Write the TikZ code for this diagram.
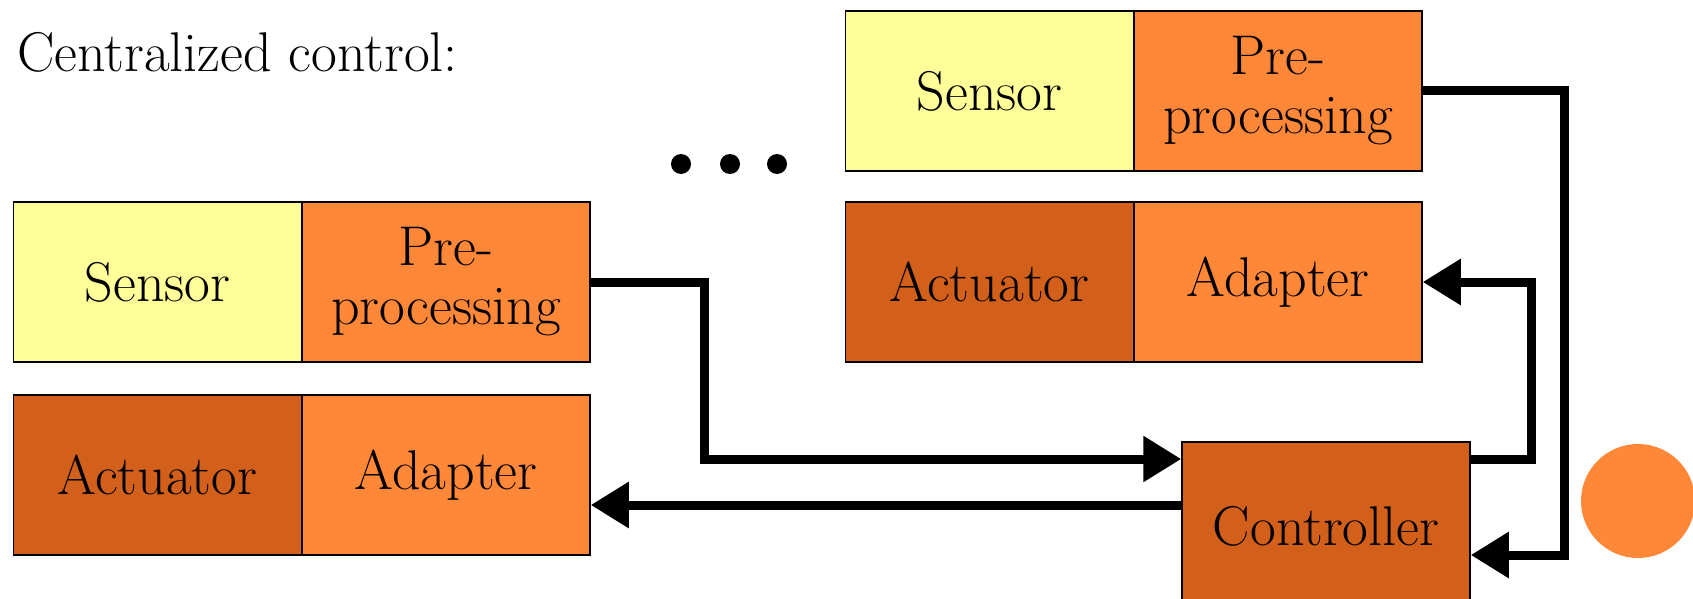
\documentclass[tikz,border=0pt]{standalone}
\usetikzlibrary{arrows.meta}
\definecolor{lyel}{RGB}{255,255,153}
\definecolor{orng}{RGB}{255,136,56}
\definecolor{dorng}{RGB}{210,96,26}
\begin{document}
\begin{tikzpicture}[x=1pt,y=-1pt,
  cell/.style={draw=black,line width=1.5pt,minimum width=288pt,minimum height=160pt,inner sep=0pt,align=center,font=\fontsize{56}{59}\selectfont},
  sens/.style={cell,fill=lyel},
  proc/.style={cell,fill=orng},
  act/.style={cell,fill=dorng},
  conn/.style={line width=9pt,line join=miter,-{Triangle[length=38pt,width=44pt]}},
  dot/.style={circle,fill=black,inner sep=0pt,minimum size=20pt}]
\clip (0,0) rectangle (1693,599);
\node[anchor=base west,inner sep=0pt,font=\fontsize{56}{59}\selectfont] (title) at (17,72) {Centralized control:};
% left group
\node[sens] (lsen) at (157.5,282) {Sensor};
\node[proc] (lpre) at (446,282) {Pre-\\processing};
\node[act]  (lact) at (157.5,475) {Actuator};
\node[proc] (ladp) at (446,475) {Adapter};
% right group
\node[sens] (rsen) at (989.5,91) {Sensor};
\node[proc] (rpre) at (1278,91) {Pre-\\processing};
\node[act]  (ract) at (989.5,282) {Actuator};
\node[proc] (radp) at (1278,282) {Adapter};
% controller
\node[cell,fill=dorng,minimum width=288pt,minimum height=168pt] (ctrl) at (1326,526) {Controller};
% dots
\node[dot] (d1) at (681,164) {};
\node[dot] (d2) at (730,164) {};
\node[dot] (d3) at (777,164) {};
% orange circle
\node[circle,fill=orng,minimum size=114pt,inner sep=0pt] (circ) at (1638,501) {};
% connectors
\coordinate (c1) at (704,459);
\coordinate (c3) at (1531,0);
\coordinate (c4) at (1564,555);
\draw[conn] (lpre.east) -| (c1) -- (c1 -| ctrl.west);
\draw[conn] ([yshift=21pt]ctrl.west) -- ([yshift=21pt]ctrl.west -| ladp.east);
\draw[conn] (ctrl.east |- c1) -| (c3 |- radp.east) -- (radp.east);
\draw[conn] (rpre.east) -| (c4) -- (c4 -| ctrl.east);
\end{tikzpicture}
\end{document}
